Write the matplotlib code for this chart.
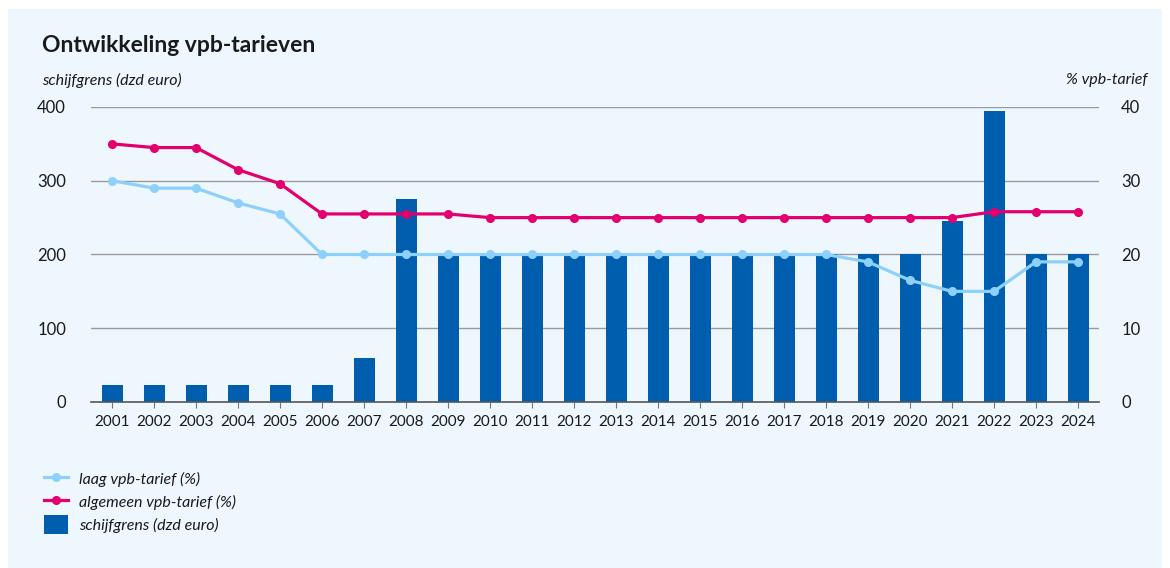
import matplotlib
matplotlib.use('Agg')
import matplotlib.pyplot as plt
from matplotlib.lines import Line2D
from matplotlib.patches import Patch, Rectangle

plt.rcParams['font.family'] = ['Lato', 'DejaVu Sans']

years = [str(y) for y in range(2001, 2025)]
schijfgrens = [22.7, 22.7, 22.7, 22.7, 22.7, 22.7, 60, 275, 200, 200, 200, 200,
               200, 200, 200, 200, 200, 200, 200, 200, 245, 395, 200, 200]
laag = [30, 29, 29, 27, 25.5, 20, 20, 20, 20, 20, 20, 20,
        20, 20, 20, 20, 20, 20, 19, 16.5, 15, 15, 19, 19]
algemeen = [35, 34.5, 34.5, 31.5, 29.6, 25.5, 25.5, 25.5, 25.5, 25, 25, 25,
            25, 25, 25, 25, 25, 25, 25, 25, 25, 25.8, 25.8, 25.8]

bg = '#eef7fe'
dark_blue = '#005eae'
pink = '#e3006e'
light_blue = '#8dd1fb'
text_col = '#1a1a1a'
grid_col = '#9a9a9a'

fig = plt.figure(figsize=(11.7, 5.68), dpi=100)
fig.patch.set_facecolor('white')
# light blue panel behind everything
fig.patches.append(Rectangle((8 / 1170, 0), 1154 / 1170, 559 / 568,
                             transform=fig.transFigure, facecolor=bg,
                             edgecolor='none', zorder=-10))

ax = fig.add_axes([91 / 1170, 166 / 568, 1008 / 1170, 295 / 568])
ax.set_facecolor('none')
x = list(range(len(years)))
ax.bar(x, schijfgrens, width=0.5, color=dark_blue, zorder=3)
ax.set_xlim(-0.5, 23.5)
ax.set_ylim(0, 400)
ax.set_yticks([0, 100, 200, 300, 400])
ax.set_xticks(x)
ax.set_xticklabels(years)
for v in [100, 200, 300, 400]:
    ax.axhline(v, color=grid_col, lw=1, zorder=1)
for s in ['top', 'right', 'left']:
    ax.spines[s].set_visible(False)
ax.spines['bottom'].set_color('#555555')
ax.spines['bottom'].set_linewidth(1.2)
ax.spines['bottom'].set_zorder(4)
ax.tick_params(axis='y', length=0, pad=18, labelsize=12, labelcolor=text_col)
ax.tick_params(axis='x', length=4, color='#777777', pad=5, labelsize=11,
               labelcolor=text_col)

ax2 = ax.twinx()
ax2.set_ylim(0, 40)
ax2.set_yticks([0, 10, 20, 30, 40])
for s in ax2.spines.values():
    s.set_visible(False)
ax2.tick_params(axis='y', length=0, pad=16, labelsize=12, labelcolor=text_col)
ax2.plot(x, laag, color=light_blue, lw=2.3, marker='o', ms=5.5, zorder=5)
ax2.plot(x, algemeen, color=pink, lw=2.3, marker='o', ms=5.5, zorder=5)

fig.text(42 / 1170, 1 - 46 / 568, 'Ontwikkeling vpb-tarieven', fontsize=16.5,
         fontweight='bold', color=text_col, va='center', ha='left')
fig.text(42 / 1170, 1 - 80 / 568, 'schijfgrens (dzd euro)', fontsize=11.5,
         style='italic', color=text_col, va='center', ha='left')
fig.text(1147 / 1170, 1 - 80 / 568, '% vpb-tarief', fontsize=11.5,
         style='italic', color=text_col, va='center', ha='right')

handles = [
    Line2D([0], [0], color=light_blue, lw=2.3, marker='o', ms=5.5),
    Line2D([0], [0], color=pink, lw=2.3, marker='o', ms=5.5),
    Patch(facecolor=dark_blue, edgecolor='none'),
]
labels = ['laag vpb-tarief (%)', 'algemeen vpb-tarief (%)', 'schijfgrens (dzd euro)']
leg = fig.legend(handles, labels, loc='upper left',
                 bbox_to_anchor=(30 / 1170, 1 - 455 / 568), frameon=False,
                 prop={'style': 'italic', 'size': 11.5}, handlelength=1.5,
                 handleheight=1.45, handletextpad=0.65, labelspacing=0.25)
for t in leg.get_texts():
    t.set_color(text_col)

fig.savefig('out.png', dpi=100, facecolor=fig.get_facecolor())
